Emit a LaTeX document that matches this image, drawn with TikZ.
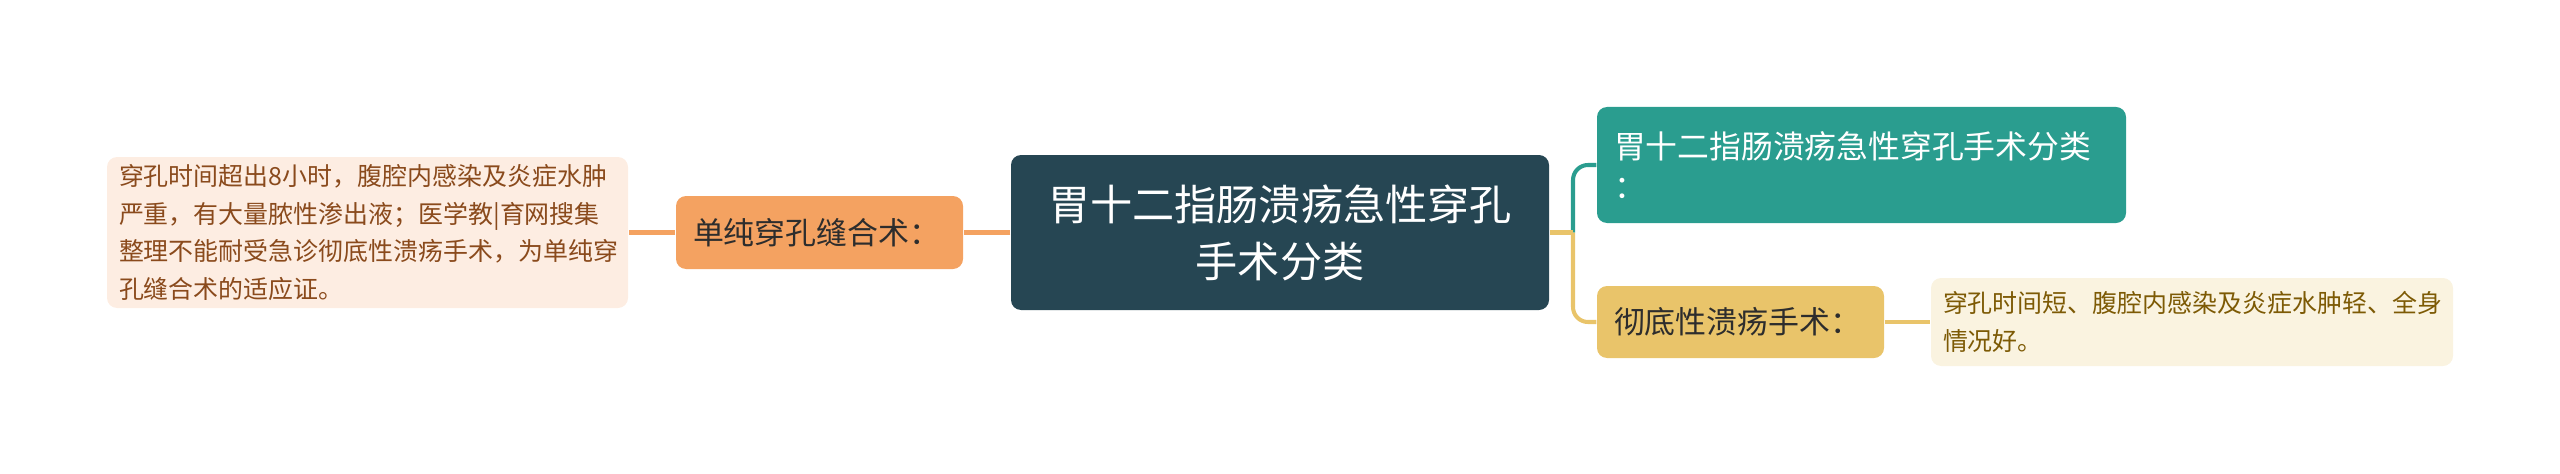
\documentclass[tikz,border=0pt]{standalone}
\usepackage{fontspec}
\setmainfont{Noto Sans CJK SC}
\usepackage{xcolor}
\usepackage{tikz}
\usetikzlibrary{positioning}

\definecolor{rootblue}{HTML}{264653}
\definecolor{teal}{HTML}{2A9D8F}
\definecolor{goldnode}{HTML}{E9C46A}
\definecolor{orangenode}{HTML}{F4A261}
\definecolor{leafpeach}{HTML}{FDEDE2}
\definecolor{leafcream}{HTML}{FAF3E0}
\definecolor{browntext}{HTML}{8A4A1C}
\definecolor{goldtext}{HTML}{7D5A05}
\definecolor{darktext}{HTML}{2D2D2D}

\begin{document}
\begin{tikzpicture}[
        box/.style={rounded corners=0.1cm, inner sep=0pt, align=left},
        root/.style={box, fill=rootblue, text=white, align=center, minimum width=5.38cm, minimum height=1.55cm, font=\fontsize{12pt}{16.2pt}\selectfont},
        branch/.style={box, text=darktext, inner xsep=0.17cm, font=\fontsize{8.8pt}{11.4pt}\selectfont},
        leaf/.style={box, inner xsep=0.12cm, font=\fontsize{7.1pt}{10.7pt}\selectfont},
        link/.style={line width=1.15pt}
    ]
        \useasboundingbox (0,0) rectangle (25.6,4.73);

        \node[root] (root) at (12.80,2.405) {胃十二指肠溃疡急性穿孔\\手术分类};

        \node[branch, fill=orangenode, text width=2.53cm, minimum height=0.73cm] (simple) at (8.195,2.405) {单纯穿孔缝合术：};
        \node[leaf, fill=leafpeach, text=browntext, text width=4.97cm, minimum height=1.51cm] (simplenote) at (3.675,2.405)
            {穿孔时间超出8小时，腹腔内感染及炎症水肿\\严重，有大量脓性渗出液；医学教|育网搜集\\整理不能耐受急诊彻底性溃疡手术，为单纯穿\\孔缝合术的适应证。};

        \node[branch, fill=teal, text=white, text width=4.95cm, minimum height=1.16cm, font=\fontsize{9.05pt}{11.6pt}\selectfont] (kinds) at (18.615,3.08) {胃十二指肠溃疡急性穿孔手术分类\\：};
        \node[branch, fill=goldnode, text width=2.53cm, minimum height=0.72cm] (radical) at (17.405,1.51) {彻底性溃疡手术：};
        \node[leaf, fill=leafcream, text=goldtext, text width=4.98cm, minimum height=0.88cm] (radicalnote) at (21.92,1.51)
            {穿孔时间短、腹腔内感染及炎症水肿轻、全身\\情况好。};

        \coordinate (fork) at (15.73,2.405);

        % left side
        \draw[link, orangenode] (root.west) -- (simple.east);
        \draw[link, orangenode] (simple.west) -- (simplenote.east);

        % right side
        \draw[link, teal, rounded corners=0.15cm] (fork) |- (kinds.west);
        \draw[link, goldnode, rounded corners=0.15cm] (fork) |- (radical.west);
        \draw[link, goldnode] (root.east) -- (fork);
        \draw[link, goldnode] (radical.east) -- (radicalnote.west);
\end{tikzpicture}
\end{document}
